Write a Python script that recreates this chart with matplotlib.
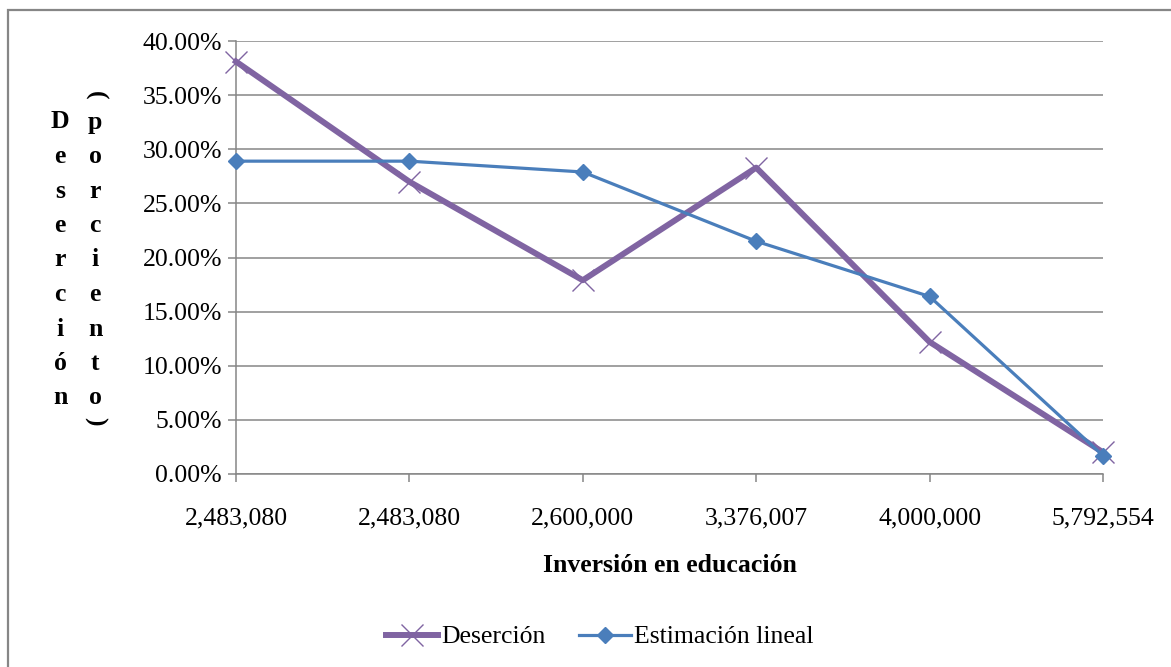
import matplotlib
matplotlib.use("Agg")
import matplotlib.pyplot as plt
from matplotlib.patches import Rectangle
from matplotlib.ticker import FuncFormatter

categories = ["2,483,080", "2,483,080", "2,600,000", "3,376,007", "4,000,000", "5,792,554"]
desercion = [38.1, 27.0, 17.9, 28.3, 12.2, 2.0]
estimacion = [28.9, 28.9, 27.9, 21.5, 16.4, 1.7]
y_ticks = [0, 5, 10, 15, 20, 25, 30, 35, 40]
ylabel_col1 = list("Deserción")
ylabel_col2 = list("porciento")

plt.rcParams['font.family'] = ['Liberation Serif', 'DejaVu Serif']

W, H = 1171, 667
fig = plt.figure(figsize=(W / 100, H / 100), dpi=100)
fig.patch.set_facecolor("white")

# chart border
fig.patches.append(Rectangle((8 / W, -0.1), 1.2, (H - 10) / H + 0.1,
                             transform=fig.transFigure, fill=False,
                             edgecolor="#868686", linewidth=1.6))

ax = fig.add_axes([236 / W, 1 - 474 / H, (1103 - 236) / W, (474 - 41) / H])
x = list(range(len(categories)))

grid_c = "#868686"
for yv in y_ticks:
    ax.axhline(yv, color=grid_c, linewidth=1.1, zorder=0)

ax.plot(x, desercion, color="#8064A2", linewidth=4.3, marker="x",
        markersize=16, markeredgewidth=1.0, label="Deserción", zorder=3,
        clip_on=False)
ax.plot(x, estimacion, color="#4A7EBB", linewidth=2.3, marker="D",
        markersize=8.5, label="Estimación lineal", zorder=4, clip_on=False)

ax.set_xlim(0, len(categories) - 1)
ax.set_ylim(0, 40)
ax.set_yticks(y_ticks)
ax.yaxis.set_major_formatter(FuncFormatter(lambda v, p: f"{v:.2f}%"))
ax.set_xticks(x)
ax.set_xticklabels(categories)
ax.tick_params(axis="both", labelsize=18.5, color=grid_c, length=6, width=1.1,
               direction="out")
ax.tick_params(axis="x", pad=18)
ax.tick_params(axis="y", pad=4)

for s in ["top", "right"]:
    ax.spines[s].set_visible(False)
for s in ["left", "bottom"]:
    ax.spines[s].set_color(grid_c)
    ax.spines[s].set_linewidth(1.1)
ax.spines["bottom"].set_zorder(1)

fig.text(670 / W, 1 - 566 / H, "Inversión en educación", ha="center",
         va="center", fontsize=18.5, fontweight="bold")

# stacked vertical y label
y0, dy = 122, 34.5
for i, ch in enumerate(ylabel_col1):
    fig.text(60 / W, 1 - (y0 + i * dy) / H, ch, ha="center", va="center",
             fontsize=18.5, fontweight="bold")
for i, ch in enumerate(ylabel_col2):
    fig.text(95 / W, 1 - (y0 + i * dy) / H, ch, ha="center", va="center",
             fontsize=18.5, fontweight="bold")
fig.text(95 / W, 1 - 95 / H, "(", ha="center", va="center", rotation=-90,
         fontsize=18.5, fontweight="bold", rotation_mode="anchor")
fig.text(95 / W, 1 - 421 / H, ")", ha="center", va="center", rotation=-90,
         fontsize=18.5, fontweight="bold", rotation_mode="anchor")

leg = fig.legend(loc="center", bbox_to_anchor=(600 / W, 1 - 637 / H),
                 ncol=2, frameon=False, fontsize=18.5, numpoints=1,
                 handlelength=2.0, handletextpad=0.15, columnspacing=1.3)

fig.savefig("out.png", dpi=100, facecolor="white")
